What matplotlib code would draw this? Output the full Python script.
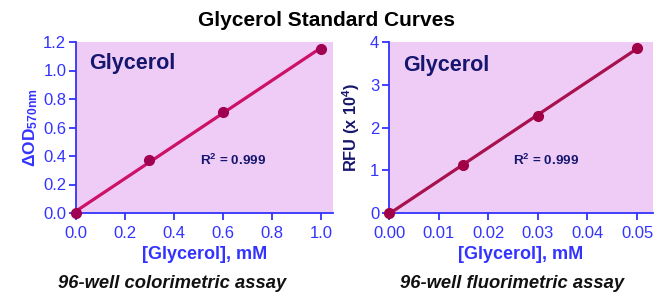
import numpy as np
import matplotlib
matplotlib.use("Agg")
import matplotlib.pyplot as plt

plt.rcParams['font.family'] = ['Liberation Sans', 'DejaVu Sans']
plt.rcParams['mathtext.fontset'] = 'custom'
plt.rcParams['mathtext.rm'] = 'Liberation Sans'
plt.rcParams['mathtext.bf'] = 'Liberation Sans:bold'
plt.rcParams['mathtext.default'] = 'bf'

# Data
colo_conc = [0.0, 0.3, 0.6, 1.0]
colo_od = [0.0, 0.37, 0.71, 1.15]
fluo_conc = [0.0, 0.015, 0.03, 0.05]
fluo_rfu = [0.0, 1.13, 2.26, 3.87]

colo_xticks = [0.0, 0.2, 0.4, 0.6, 0.8, 1.0]
colo_yticks = [0.0, 0.2, 0.4, 0.6, 0.8, 1.0, 1.2]
fluo_xticks = [0.00, 0.01, 0.02, 0.03, 0.04, 0.05]
fluo_yticks = [0, 1, 2, 3, 4]

BG = '#EECCF6'
AX = '#3333FF'
NAVY = '#16166E'

fig = plt.figure(figsize=(6.55, 2.93), dpi=100)
ax1 = fig.add_axes([76/655, 1-213/293, 257/655, 171/293])
ax2 = fig.add_axes([389/655, 1-213/293, 264/655, 171/293])

def style(ax):
    ax.set_facecolor(BG)
    for s in ['top', 'right']:
        ax.spines[s].set_visible(False)
    for s in ['left', 'bottom']:
        ax.spines[s].set_color(AX)
        ax.spines[s].set_linewidth(1.3)
    ax.tick_params(colors=AX, labelcolor=AX, labelsize=12, length=5, width=1.3, direction='out')
    ax.tick_params(axis='x', pad=4)
    ax.tick_params(axis='y', pad=2)

# Colorimetric
style(ax1)
c1 = np.polyfit(colo_conc, colo_od, 1)
xl = np.array([colo_conc[0], colo_conc[-1]])
ax1.plot(xl, np.polyval(c1, xl), color='#CC1166', lw=2.3, zorder=2, clip_on=False)
ax1.plot(colo_conc, colo_od, 'o', color='#A00050', ms=7, zorder=3, clip_on=False)
ax1.set_xlim(0, 1.049)
ax1.set_ylim(0, 1.2)
ax1.set_xticks(colo_xticks)
ax1.set_xticklabels([f'{v:.1f}' for v in colo_xticks])
ax1.set_yticks(colo_yticks)
ax1.set_yticklabels([f'{v:.1f}' for v in colo_yticks])
ax1.set_xlabel('[Glycerol], mM', color=AX, fontsize=13, fontweight='bold', labelpad=4)
ax1.set_ylabel(r'$\mathbf{\Delta OD}_{\mathbf{570nm}}$', color=AX, fontsize=12.5, labelpad=2)
ax1.text(0.053, 1.05, 'Glycerol', color=NAVY, fontsize=15.5, fontweight='bold', va='center', ha='left')
ax1.text(0.506, 0.37, r'R$^2$ = 0.999', color=NAVY, fontsize=9.7, fontweight='bold', va='center', ha='left')

# Fluorimetric
style(ax2)
c2 = np.polyfit(fluo_conc, fluo_rfu, 1)
xl2 = np.array([fluo_conc[0], fluo_conc[-1]])
ax2.plot(xl2, np.polyval(c2, xl2), color='#A8104E', lw=2.3, zorder=2, clip_on=False)
ax2.plot(fluo_conc, fluo_rfu, 'o', color='#A00045', ms=7, zorder=3, clip_on=False)
ax2.set_xlim(0, 0.0532)
ax2.set_ylim(0, 4)
ax2.set_xticks(fluo_xticks)
ax2.set_xticklabels([f'{v:.2f}' for v in fluo_xticks])
ax2.set_yticks(fluo_yticks)
ax2.set_yticklabels([str(v) for v in fluo_yticks])
ax2.set_xlabel('[Glycerol], mM', color=AX, fontsize=13, fontweight='bold', labelpad=4)
ax2.set_ylabel(r'RFU (x 10$^{4}$)', color=NAVY, fontsize=11.8, fontweight='bold', labelpad=6)
ax2.text(0.0028, 3.46, 'Glycerol', color=NAVY, fontsize=15.5, fontweight='bold', va='center', ha='left')
ax2.text(0.025, 1.24, r'R$^2$ = 0.999', color=NAVY, fontsize=9.7, fontweight='bold', va='center', ha='left')

fig.text(326/655, 1-20/293, 'Glycerol Standard Curves', ha='center', va='center',
         fontsize=15, fontweight='bold', color='black')
fig.text(172/655, 1-284/293, '96-well colorimetric assay', ha='center', va='center',
         fontsize=13.2, fontweight='bold', style='italic', color='#111111')
fig.text(512/655, 1-284/293, '96-well fluorimetric assay', ha='center', va='center',
         fontsize=13.2, fontweight='bold', style='italic', color='#111111')

fig.savefig('out.png', dpi=100)
